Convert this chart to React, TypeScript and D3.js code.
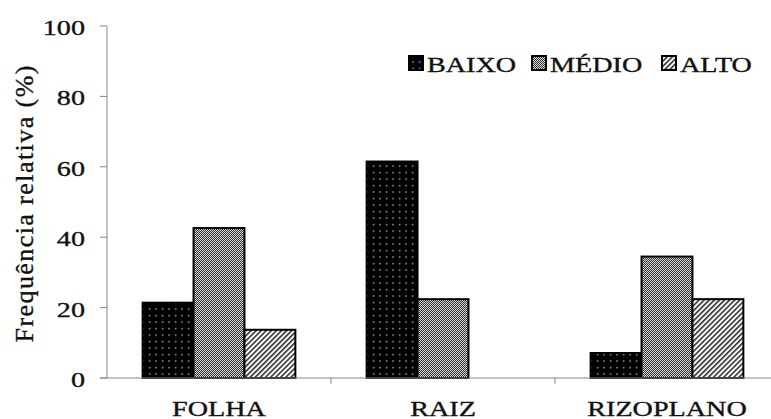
import * as d3 from "d3";

// categorias e séries
const categories = ["FOLHA", "RAIZ", "RIZOPLANO"];
const seriesNames = ["BAIXO", "MÉDIO", "ALTO"];
const baixo = [21.4, 61.5, 7.1];
const medio = [42.6, 22.4, 34.5];
const alto = [13.7, 0, 22.4];
const yTicks = [0, 20, 40, 60, 80, 100];

const width = 771;
const height = 419;
const marginLeft = 107;
const plotTop = 26;
const plotBottom = 378;
const stretch = 1.28; // glyphs are wide in the original
const serif = "Liberation Serif";

const fills = ["url(#pBaixo)", "url(#pMedio)", "url(#pAlto)"];

// shared look for every label
const textProps = { fontSize: 22, fontFamily: serif, fill: "#111", stroke: "#111", strokeWidth: 0.35 };

const App = () => {
    const values = [baixo, medio, alto];

    const x0 = d3
        .scaleBand()
        .domain(categories)
        .range([marginLeft, marginLeft + 3 * 224])
        .padding(0);

    const x1 = d3
        .scaleBand()
        .domain(seriesNames)
        .range([0, x0.bandwidth()])
        .paddingInner(0)
        .paddingOuter(0.7);

    const yScale = d3.scaleLinear().domain([0, 100]).range([plotBottom, plotTop]);

    const legendX = [409, 532, 662];

    return (
        <svg
            width={width}
            height={height}
            viewBox={`0 0 ${width} ${height}`}
            style={{ position: "absolute", left: 0, top: 0, background: "#fff" }}
        >
            <defs>
                <pattern id="pBaixo" width={6.5} height={6.5} patternUnits="userSpaceOnUse">
                    <rect width={6.5} height={6.5} fill="#000" />
                    <rect x={3} y={3} width={1.2} height={1.2} fill="#fff" />
                </pattern>
                <pattern id="pMedio" width={2} height={2} patternUnits="userSpaceOnUse">
                    <rect width={2} height={2} fill="#d8d8d8" />
                    <rect x={0} y={0} width={1} height={1} fill="#333" />
                    <rect x={1} y={1} width={1} height={1} fill="#333" />
                </pattern>
                <pattern
                    id="pAlto"
                    width={3.6}
                    height={3.6}
                    patternUnits="userSpaceOnUse"
                    patternTransform="rotate(45)"
                >
                    <rect width={3.6} height={3.6} fill="#fff" />
                    <line x1={0.8} y1={0} x2={0.8} y2={3.6} stroke="#000" strokeWidth={1.3} />
                </pattern>
            </defs>

            {/* eixo y */}
            <line x1={marginLeft} x2={marginLeft} y1={plotTop} y2={plotBottom} stroke="#888" strokeWidth={1} />
            {yTicks.map((t) => (
                <g key={t}>
                    <line x1={marginLeft - 7} x2={marginLeft} y1={yScale(t)} y2={yScale(t)} stroke="#888" />
                    <text
                        transform={`translate(85,${yScale(t) + 9}) scale(${stretch},1)`}
                        textAnchor="end"
                        {...textProps}
                    >
                        {t}
                    </text>
                </g>
            ))}
            <text
                transform={`translate(33,204) rotate(-90)`}
                textAnchor="middle"
                {...textProps}
                fontSize={26}
                textLength={277}
                lengthAdjust="spacing"
            >
                Frequência relativa (%)
            </text>

            {/* barras */}
            <g className="bars">
                {categories.map((c, ci) => (
                    <g key={c} transform={`translate(${x0(c)},0)`}>
                        {seriesNames.map((s, si) =>
                            values[si][ci] > 0 ? (
                                <rect
                                    key={s}
                                    x={x1(s)}
                                    y={yScale(values[si][ci])}
                                    width={x1.bandwidth()}
                                    height={yScale(0) - yScale(values[si][ci])}
                                    fill={fills[si]}
                                    stroke="#000"
                                    strokeWidth={2}
                                />
                            ) : null
                        )}
                    </g>
                ))}
            </g>

            {/* eixo x */}
            <line x1={marginLeft - 7} x2={width} y1={plotBottom} y2={plotBottom} stroke="#888" />
            {categories.slice(1).map((c) => (
                <line key={c} x1={x0(c)} x2={x0(c)} y1={plotBottom} y2={plotBottom + 6} stroke="#888" />
            ))}
            {categories.map((c) => (
                <text
                    key={c}
                    transform={`translate(${x0(c) + x0.bandwidth() / 2},416) scale(${stretch},1)`}
                    textAnchor="middle"
                    {...textProps}
                >
                    {c}
                </text>
            ))}

            {/* legenda */}
            {seriesNames.map((s, i) => (
                <g key={s}>
                    <rect x={legendX[i]} y={56} width={14} height={14} fill={fills[i]} stroke="#000" strokeWidth={2} />
                    <text transform={`translate(${legendX[i] + 18},72) scale(${stretch},1)`} {...textProps}>
                        {s}
                    </text>
                </g>
            ))}
        </svg>
    );
};

export default App;
